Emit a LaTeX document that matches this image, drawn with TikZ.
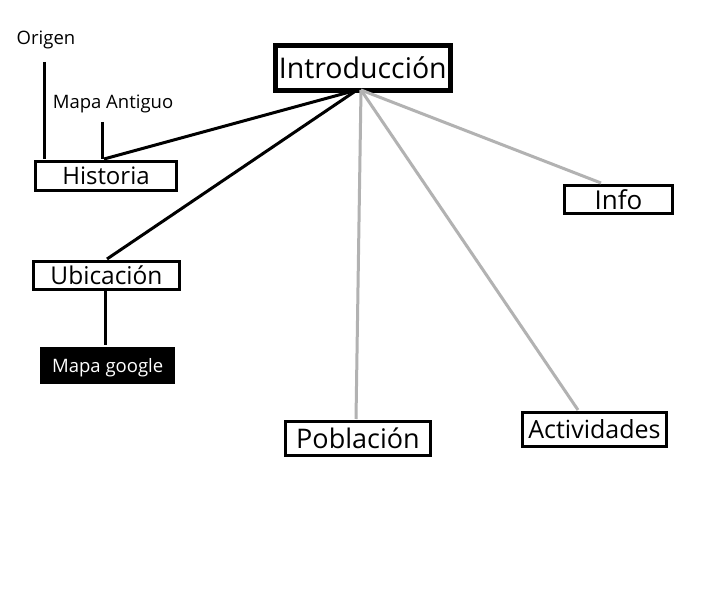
\documentclass[tikz,border=0pt]{standalone}
\usepackage{fontspec}
\setmainfont{Open Sans}
\definecolor{linegray}{RGB}{178,178,178}
\begin{document}
\begin{tikzpicture}[x=1pt,y=-1pt,
  box/.style={draw=black,line width=3pt,fill=white,inner sep=0pt,anchor=north west},
  blk/.style={line width=3pt,draw=black},
  gry/.style={line width=3pt,draw=linegray},
  lbl/.style={inner sep=0pt,font=\fontsize{18.5}{20}\selectfont}]
\useasboundingbox (0,0) rectangle (710,599);
\fill[white] (0,0) rectangle (710,599);
% boxes
\node[box,line width=4.6pt,minimum width=175pt,minimum height=45pt,font=\fontsize{28.5}{30}\selectfont] (intro) at (273,43) {Introducción};
\node[box,minimum width=141pt,minimum height=29pt,font=\fontsize{24}{26}\selectfont] (hist) at (34,160) {Historia};
\node[box,minimum width=146pt,minimum height=28pt,font=\fontsize{24.5}{26}\selectfont] (ubic) at (32,260) {Ubicación};
\node[fill=black,text=white,inner sep=0pt,anchor=north west,minimum width=135pt,minimum height=37pt,text height=17pt,text depth=3pt,font=\fontsize{18.5}{20}\selectfont] (mapg) at (40,347) {Mapa google};
\node[box,minimum width=145pt,minimum height=34pt,font=\fontsize{27}{29}\selectfont] (pobl) at (284,420) {Población};
\node[box,minimum width=144pt,minimum height=34pt,font=\fontsize{25}{27}\selectfont] (activ) at (521,411) {Actividades};
\node[box,minimum width=108pt,minimum height=28pt,font=\fontsize{26}{28}\selectfont] (info) at (563,184) {Info};
% labels
\node[lbl] (orig) at (46,40) {Origen};
\node[lbl] (mapa) at (113,104) {Mapa Antiguo};
% coordinates
\coordinate (ib) at (357,90);
\coordinate (ib2) at (361,90);
\coordinate (origtop) at (44,62);
\coordinate (origbot) at (44,159);
\coordinate (mapatop) at (102,122);
\coordinate (mapabot) at (102,159);
\coordinate (histtop) at (104,159);
\coordinate (ubictop) at (107,259);
\coordinate (ubicbot) at (105,290);
\coordinate (mapgtop) at (105,345);
\coordinate (infotop) at (601,183);
\coordinate (pobltop) at (356,419);
\coordinate (activtop) at (578,410);
% connectors
\draw[blk] (origtop) -- (origbot);
\draw[blk] (mapatop) -- (mapabot);
\draw[blk] (ib) -- (histtop);
\draw[blk] (ib) -- (ubictop);
\draw[blk] (ubicbot) -- (mapgtop);
\draw[gry] (ib2) -- (infotop);
\draw[gry] (ib2) -- (pobltop);
\draw[gry] (ib2) -- (activtop);
\end{tikzpicture}
\end{document}
